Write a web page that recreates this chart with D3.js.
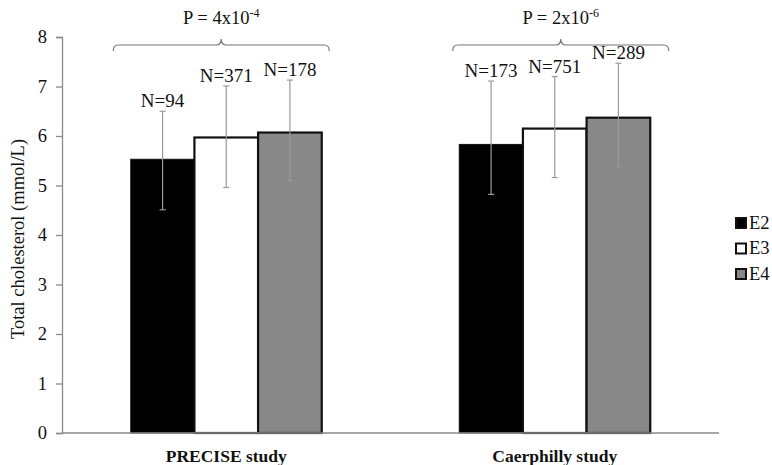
<!DOCTYPE html>
<html>
<head>
<meta charset="utf-8">
<script src="https://cdn.jsdelivr.net/npm/d3@7"></script>
<style>
  body { margin: 0; background: #fff; }
  svg text { font-family: "Liberation Serif", "DejaVu Serif", serif !important; fill: #111; }
</style>
</head>
<body>
<div id="chart"></div>
<script>
// data
var studies = ["PRECISE study", "Caerphilly study"];
var genotypes = ["E2", "E3", "E4"];
var means = [[5.53, 5.97, 6.07], [5.83, 6.15, 6.37]];
var errLow = [[4.51, 4.96, 5.10], [4.82, 5.16, 5.38]];
var errHigh = [[6.50, 7.01, 7.13], [7.11, 7.20, 7.47]];
var nLabels = [["N=94", "N=371", "N=178"], ["N=173", "N=751", "N=289"]];
var pBase = ["P = 4x10", "P = 2x10"];
var pExp = ["-4", "-6"];
var yTicks = [0, 1, 2, 3, 4, 5, 6, 7, 8];

var fills = {E2: "#000000", E3: "#ffffff", E4: "#888888"};

var W = 772, H = 465;
var margin = {top: 37, right: 53, bottom: 32, left: 62};
var width = W - margin.left - margin.right,
    height = H - margin.top - margin.bottom;

var svg = d3.select("#chart").append("svg")
    .attr("width", W)
    .attr("height", H)
    .attr("font-family", "Liberation Serif")
  .append("g")
    .attr("transform", "translate(" + margin.left + "," + margin.top + ")");

var x0 = d3.scaleBand().domain(studies).range([0, width]).padding(0);
var x1 = d3.scaleBand().domain(genotypes).range([0, x0.bandwidth()])
    .paddingInner(0).paddingOuter(1.08);
var y = d3.scaleLinear().domain([0, 8]).range([height, 0]);

// flatten rows for drawing
var rows = [];
studies.forEach(function(s, i) {
  genotypes.forEach(function(g, j) {
    rows.push({study: s, g: g, v: means[i][j], lo: errLow[i][j], hi: errHigh[i][j], n: nLabels[i][j]});
  });
});

// Y axis
var yAxis = svg.append("g")
    .call(d3.axisLeft(y).tickValues(yTicks).tickSize(6).tickPadding(9));
yAxis.attr("font-family", null);
yAxis.select(".domain").attr("stroke", "#8a8a8a").attr("stroke-width", 1.3);
yAxis.selectAll(".tick line").attr("stroke", "#8a8a8a").attr("stroke-width", 1.3);
yAxis.selectAll(".tick text").style("font-size", "18.5px");

// bars
svg.selectAll("rect.bar")
  .data(rows)
  .enter()
  .append("rect")
    .attr("class", "bar")
    .attr("x", function(d) { return x0(d.study) + x1(d.g); })
    .attr("y", function(d) { return y(d.v); })
    .attr("width", x1.bandwidth())
    .attr("height", function(d) { return height - y(d.v); })
    .attr("fill", function(d) { return fills[d.g]; })
    .attr("stroke", "#111")
    .attr("stroke-width", function(d) { return d.g == "E2" ? 1 : 2.2; });

// error bars
var eb = svg.selectAll("g.err")
  .data(rows)
  .enter()
  .append("g")
    .attr("class", "err")
    .attr("transform", function(d) { return "translate(" + (x0(d.study) + x1(d.g) + x1.bandwidth() / 2) + ",0)"; });
eb.append("line")
    .attr("y1", function(d) { return y(d.lo); })
    .attr("y2", function(d) { return y(d.hi); })
    .attr("stroke", "#9a9a9a").attr("stroke-width", 1.2);
eb.append("line")
    .attr("x1", -3).attr("x2", 3)
    .attr("y1", function(d) { return y(d.hi); })
    .attr("y2", function(d) { return y(d.hi); })
    .attr("stroke", "#9a9a9a").attr("stroke-width", 1.2);
eb.append("line")
    .attr("x1", -3).attr("x2", 3)
    .attr("y1", function(d) { return y(d.lo); })
    .attr("y2", function(d) { return y(d.lo); })
    .attr("stroke", "#9a9a9a").attr("stroke-width", 1.2);
eb.append("text")
    .attr("y", function(d) { return y(d.hi) - 4; })
    .attr("text-anchor", "middle")
    .style("font-size", "19px")
    .text(function(d) { return d.n; });

// X axis
svg.append("line")
    .attr("x1", 0).attr("x2", width)
    .attr("y1", height).attr("y2", height)
    .attr("stroke", "#8a8a8a").attr("stroke-width", 1.5);

svg.selectAll("text.cat")
  .data(studies)
  .enter()
  .append("text")
    .attr("class", "cat")
    .attr("x", function(d) { return x0(d) + x0.bandwidth() / 2; })
    .attr("y", height + 29)
    .attr("text-anchor", "middle")
    .style("font-size", "17.5px")
    .style("font-weight", "bold")
    .text(function(d) { return d; });

// braces with P values
var half = 108, by = 45 - margin.top;
studies.forEach(function(s, i) {
  var cx = x0(s) + x0.bandwidth() / 2 + (i == 0 ? -5 : 6);
  var p = "M" + (cx - half) + "," + (by + 6) +
    " Q" + (cx - half) + "," + by + " " + (cx - half + 5) + "," + by +
    " L" + (cx - 5) + "," + by +
    " Q" + cx + "," + by + " " + cx + "," + (by - 6) +
    " Q" + cx + "," + by + " " + (cx + 5) + "," + by +
    " L" + (cx + half - 5) + "," + by +
    " Q" + (cx + half) + "," + by + " " + (cx + half) + "," + (by + 6);
  svg.append("path").attr("d", p)
    .attr("fill", "none").attr("stroke", "#777").attr("stroke-width", 1.2);
  var t = svg.append("text")
    .attr("x", cx)
    .attr("y", 24 - margin.top)
    .attr("text-anchor", "middle")
    .style("font-size", "18.5px");
  t.append("tspan").text(pBase[i]);
  t.append("tspan").attr("dy", -7).style("font-size", "12px").text(pExp[i]);
});

// y label
svg.append("text")
    .attr("transform", "translate(" + (24 - margin.left) + "," + (239 - margin.top) + ") rotate(-90)")
    .attr("text-anchor", "middle")
    .style("font-size", "18.5px")
    .text("Total cholesterol (mmol/L)");

// legend
var leg = svg.selectAll("g.leg")
  .data(genotypes)
  .enter()
  .append("g")
    .attr("class", "leg")
    .attr("transform", function(d, i) { return "translate(" + (735 - margin.left) + "," + (217 + i * 25.5 - margin.top) + ")"; });
leg.append("rect")
    .attr("x", 1).attr("y", 1)
    .attr("width", 10).attr("height", 10)
    .attr("fill", function(d) { return fills[d]; })
    .attr("stroke", "#111").attr("stroke-width", 2);
leg.append("text")
    .attr("x", 14).attr("y", 11.5)
    .style("font-size", "18.5px")
    .text(function(d) { return d; });
</script>
</body>
</html>
